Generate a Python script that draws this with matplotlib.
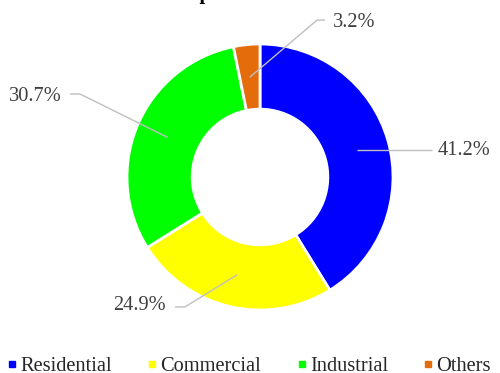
import matplotlib
matplotlib.use("Agg")
import matplotlib.pyplot as plt
import numpy as np
from matplotlib.lines import Line2D

categories = ["Residential", "Commercial", "Industrial", "Others"]
values = [41.2, 24.9, 30.7, 3.2]
colors = ["#0000FF", "#FFFF00", "#00FF00", "#E46C0A"]
title = "Consumption Share"

W, H = 500, 373
cx, cy, R = 260, 177, 133  # pixel centre and radius

fig = plt.figure(figsize=(W / 100, H / 100), dpi=100)
ax = fig.add_axes([0, 0, 1, 1])

wedges, _ = ax.pie(values, colors=colors, startangle=90, counterclock=False,
                   radius=1.0, wedgeprops=dict(width=0.49, edgecolor="white", linewidth=2))
ax.set_xlim((0 - cx) / R, (W - cx) / R)
ax.set_ylim((cy - H) / R, (cy - 0) / R)
ax.set_aspect("equal")
ax.axis("off")

serif = ["Liberation Serif", "DejaVu Serif"]
lc = "#BFBFBF"
tc = "#404040"
fs = 14.7

# label layouts: (elbow_x, elbow_y, end_x, text_x, text_y, ha) in data units
layouts = [
    (None, 0.203, 1.293, 1.338, 0.203, "left"),
    (-0.564, -0.977, -0.639, -0.707, -0.965, "right"),
    (-1.353, 0.624, -1.429, -1.489, 0.609, "right"),
    (0.429, 1.180, 0.489, 0.549, 1.165, "left"),
]
for w, v, lay in zip(wedges, values, layouts):
    ang = np.deg2rad((w.theta1 + w.theta2) / 2)
    sx, sy = 0.755 * np.cos(ang), 0.755 * np.sin(ang)
    ex, ey, endx, tx, ty, ha = lay
    if ex is None:
        xs, ys = [sx, endx], [sy, sy]
    else:
        xs, ys = [sx, ex, endx], [sy, ey, ey]
    ax.plot(xs, ys, color=lc, lw=1, solid_capstyle="butt")
    ax.text(tx, ty, f"{v:.1f}%", ha=ha, va="center", fontsize=fs, color=tc, family=serif)

handles = [Line2D([], [], marker="s", linestyle="none", markersize=4.5,
                  markerfacecolor=c, markeredgecolor=c) for c in colors]
fig.legend(handles, categories, loc="center", bbox_to_anchor=(249 / W, 1 - 366 / H),
           ncol=4, frameon=False, handlelength=0.5, handletextpad=0.15,
           columnspacing=1.72, prop={"family": serif, "size": fs}, labelcolor="#262626",
           borderpad=0)

fig.text(127 / W, 1 + 1 / H, title, ha="left", va="baseline", fontsize=fs, fontweight="bold",
         family=serif, color="black")

fig.savefig("out.png", dpi=100)
